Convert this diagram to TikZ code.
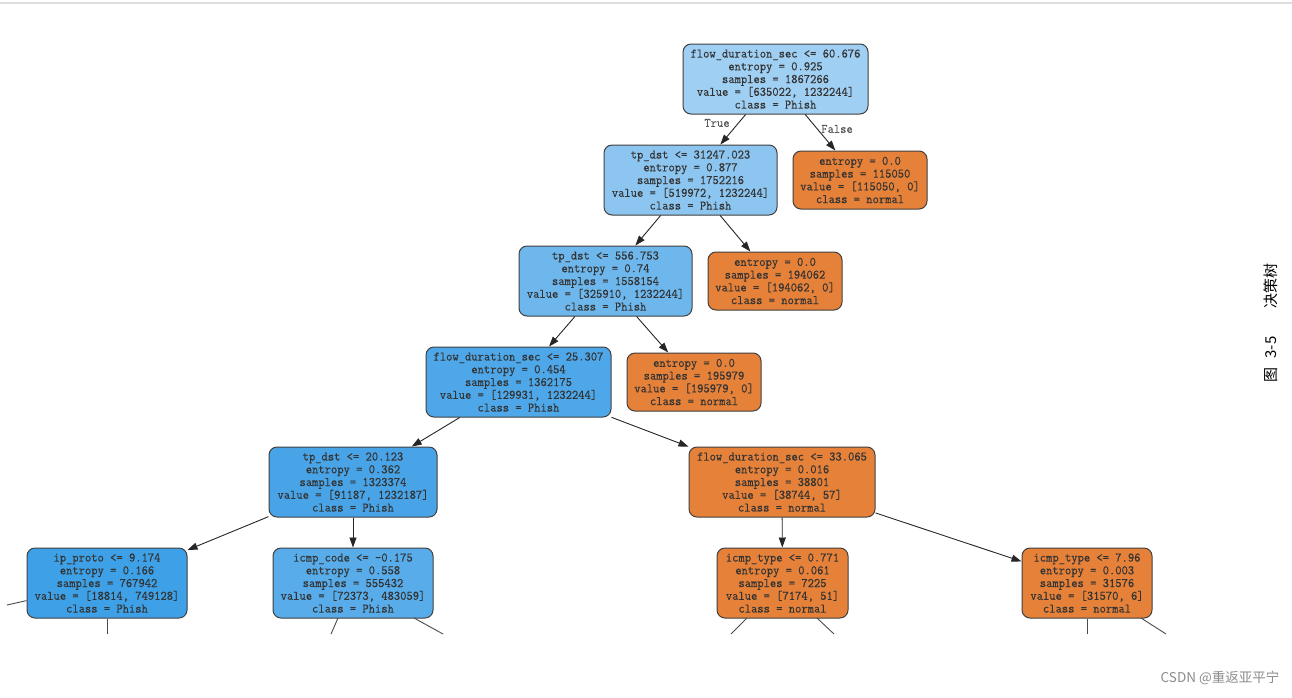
\documentclass[tikz,border=0pt]{standalone}
\usepackage{fontspec}
\newfontfamily\cjkfont{Noto Sans CJK SC}
\newfontfamily\treefont{lmmono12-regular.otf}[FakeStretch=0.94,FakeBold=0.25]
\usetikzlibrary{arrows.meta}
\definecolor{cA}{RGB}{159,207,242}
\definecolor{cB}{RGB}{140,198,240}
\definecolor{cC}{RGB}{109,183,236}
\definecolor{cD}{RGB}{78,167,232}
\definecolor{cE}{RGB}{72,164,231}
\definecolor{cF}{RGB}{62,160,230}
\definecolor{cG}{RGB}{87,172,233}
\definecolor{corange}{RGB}{229,129,57}
\definecolor{topline}{RGB}{222,222,222}
\begin{document}
\begin{tikzpicture}[x=1pt,y=-1pt,
  tnode/.style={draw=black!75, line width=1pt, rounded corners=8pt, align=center,
    inner sep=0pt, font=\treefont\fontsize{13}{12.75}\selectfont, text=black!80,
    minimum height=70pt},
  leaf/.style={tnode, fill=corange, minimum width=134pt, minimum height=58pt},
  edge/.style={draw=black!85, line width=0.9pt, -{Triangle[length=10pt,width=7pt]}},
  stub/.style={draw=black!70, line width=0.9pt},
  elabel/.style={font=\treefont\fontsize{13}{12.75}\selectfont, text=black!65, inner sep=0pt}
]
\useasboundingbox (0,0) rectangle (1292,697);
\fill[white] (0,0) rectangle (1292,697);
\draw[topline, line width=1.5pt] (0,3) -- (1292,3);

% level 0
\node[tnode, fill=cA, minimum width=185pt] (n1) at (775.5,79)
  {flow\_duration\_sec <= 60.676\\entropy = 0.925\\samples = 1867266\\value = [635022, 1232244]\\class = Phish};
% level 1
\node[tnode, fill=cB, minimum width=173pt] (n2) at (690.5,180)
  {tp\_dst <= 31247.023\\entropy = 0.877\\samples = 1752216\\value = [519972, 1232244]\\class = Phish};
\node[leaf] (n3) at (860,180)
  {entropy = 0.0\\samples = 115050\\value = [115050, 0]\\class = normal};
% level 2
\node[tnode, fill=cC, minimum width=173pt] (n4) at (605.5,281)
  {tp\_dst <= 556.753\\entropy = 0.74\\samples = 1558154\\value = [325910, 1232244]\\class = Phish};
\node[leaf] (n5) at (775,281)
  {entropy = 0.0\\samples = 194062\\value = [194062, 0]\\class = normal};
% level 3
\node[tnode, fill=cD, minimum width=185pt] (n6) at (518.5,382)
  {flow\_duration\_sec <= 25.307\\entropy = 0.454\\samples = 1362175\\value = [129931, 1232244]\\class = Phish};
\node[leaf] (n7) at (694,382)
  {entropy = 0.0\\samples = 195979\\value = [195979, 0]\\class = normal};
% level 4
\node[tnode, fill=cE, minimum width=168pt] (n8) at (353,482)
  {tp\_dst <= 20.123\\entropy = 0.362\\samples = 1323374\\value = [91187, 1232187]\\class = Phish};
\node[tnode, fill=corange, minimum width=186pt] (n9) at (782,482)
  {flow\_duration\_sec <= 33.065\\entropy = 0.016\\samples = 38801\\value = [38744, 57]\\class = normal};
% level 5
\node[tnode, fill=cF, minimum width=160pt] (n10) at (107,583)
  {ip\_proto <= 9.174\\entropy = 0.166\\samples = 767942\\value = [18814, 749128]\\class = Phish};
\node[tnode, fill=cG, minimum width=160pt] (n11) at (353,583)
  {icmp\_code <= -0.175\\entropy = 0.558\\samples = 555432\\value = [72373, 483059]\\class = Phish};
\node[tnode, fill=corange, minimum width=131pt] (n12) at (782.5,583)
  {icmp\_type <= 0.771\\entropy = 0.061\\samples = 7225\\value = [7174, 51]\\class = normal};
\node[tnode, fill=corange, minimum width=130pt] (n13) at (1087,583)
  {icmp\_type <= 7.96\\entropy = 0.003\\samples = 31576\\value = [31570, 6]\\class = normal};

% edges
\draw[edge] (n1) -- (n2);
\draw[edge] (n1) -- (n3);
\draw[edge] (n2) -- (n4);
\draw[edge] (n2) -- (n5);
\draw[edge] (n4) -- (n6);
\draw[edge] (n4) -- (n7);
\draw[edge] (n6) -- (n8);
\draw[edge] (n6) -- (n9);
\draw[edge] (n8) -- (n10);
\draw[edge] (n8) -- (n11);
\draw[edge] (n9) -- (n12);
\draw[edge] (n9) -- (n13);

\node[elabel] (lt) at (717,123) {True};
\node[elabel] (lf) at (837,129) {False};

% truncated edges to off-picture children
\coordinate (e10a) at (7,605);
\coordinate (e10b) at (107,634);
\coordinate (e11a) at (331,634);
\coordinate (e11b) at (443,634);
\coordinate (e12a) at (731,634);
\coordinate (e12b) at (834,634);
\coordinate (e13a) at (1087,634);
\coordinate (e13b) at (1166,634);
\draw[stub] (n10.west |- 0,600.6) -- (e10a);
\draw[stub] (n10.south) -- (e10b);
\draw[stub] (338,618) coordinate (s11a) -- (e11a);
\draw[stub] (414,618) coordinate (s11b) -- (e11b);
\draw[stub] (747,618) coordinate (s12a) -- (e12a);
\draw[stub] (817,618) coordinate (s12b) -- (e12b);
\draw[stub] (n13.south) -- (e13a);
\draw[stub] (1141,618) coordinate (s13b) -- (e13b);

% side caption
\node[rotate=90, font=\cjkfont\fontsize{15}{17}\selectfont, text=black, inner sep=0pt] (cap) at (1271,323)
  {图\hspace{9pt}3-5\hspace{28pt}决策树};
% watermark
\node[font=\cjkfont\fontsize{13.5}{16}\selectfont, text=black!45, inner sep=0pt] (wm) at (1220,678)
  {CSDN @重返亚平宁};
\end{tikzpicture}
\end{document}
